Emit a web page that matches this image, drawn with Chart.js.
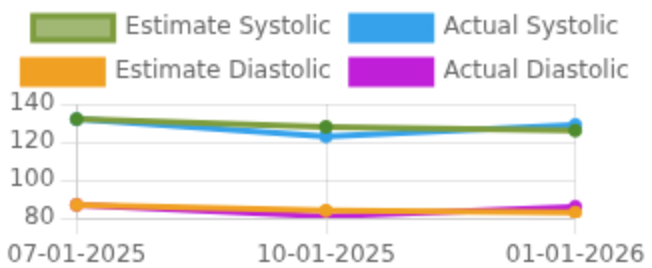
<!DOCTYPE html>
<html>
<head>
<meta charset="utf-8">
<script src="https://cdn.jsdelivr.net/npm/chart.js@4/dist/chart.umd.min.js"></script>
<style>
  html, body { margin: 0; padding: 0; background: #ffffff; overflow: hidden; }
  #wrap { width: 652px; height: 268px; overflow: hidden; position: relative; }
</style>
</head>
<body>
<div id="wrap">
<canvas id="c" width="326" height="134" style="width:652px;height:268px;display:block"></canvas>
</div>
<script>
const categories = ['07-01-2025', '10-01-2025', '01-01-2026'];
const seriesNames = ['Estimate Systolic', 'Actual Systolic', 'Estimate Diastolic', 'Actual Diastolic'];
const estimateSystolic = [132, 128, 126];
const actualSystolic = [132, 123, 129];
const estimateDiastolic = [87, 84, 83];
const actualDiastolic = [87, 81, 86];
const yTicks = [80, 100, 120, 140];

Chart.defaults.font.family = "'DejaVu Sans', sans-serif";
Chart.defaults.font.size = 12;
Chart.defaults.color = '#666666';

const ds = (label, data, border, bg, pointColor) => ({
  label, data,
  borderColor: border,
  backgroundColor: bg,
  pointBackgroundColor: pointColor,
  pointBorderColor: pointColor,
  borderWidth: 3,
  pointRadius: 3,
  pointBorderWidth: 1,
  tension: 0,
  fill: false
});

new Chart(document.getElementById('c'), {
  type: 'line',
  data: {
    labels: categories,
    datasets: [
      ds(seriesNames[0], estimateSystolic, '#7d9c3e', 'rgba(125,156,62,0.72)', '#4e8a2e'),
      ds(seriesNames[1], actualSystolic, '#36a2eb', '#36a2eb', '#36a2eb'),
      ds(seriesNames[2], estimateDiastolic, '#f0a022', '#f0a022', '#f0a022'),
      ds(seriesNames[3], actualDiastolic, '#c01fd8', '#c01fd8', '#c01fd8')
    ]
  },
  options: {
    responsive: false,
    devicePixelRatio: 1,
    animation: false,
    layout: { padding: { top: -2, bottom: -4.5 } },
    plugins: {
      legend: {
        position: 'top',
        labels: { boxWidth: 40, padding: 10 }
      },
      tooltip: { enabled: false }
    },
    scales: {
      x: {
        grid: { color: 'rgba(0,0,0,0.1)' },
        ticks: { maxRotation: 0, padding: 3.5 }
      },
      y: {
        min: yTicks[0],
        max: yTicks[yTicks.length - 1],
        afterBuildTicks: (axis) => { axis.ticks = yTicks.map(v => ({ value: v })); },
        ticks: { autoSkip: false },
        grid: { color: 'rgba(0,0,0,0.1)' }
      }
    }
  }
});
</script>
</body>
</html>
